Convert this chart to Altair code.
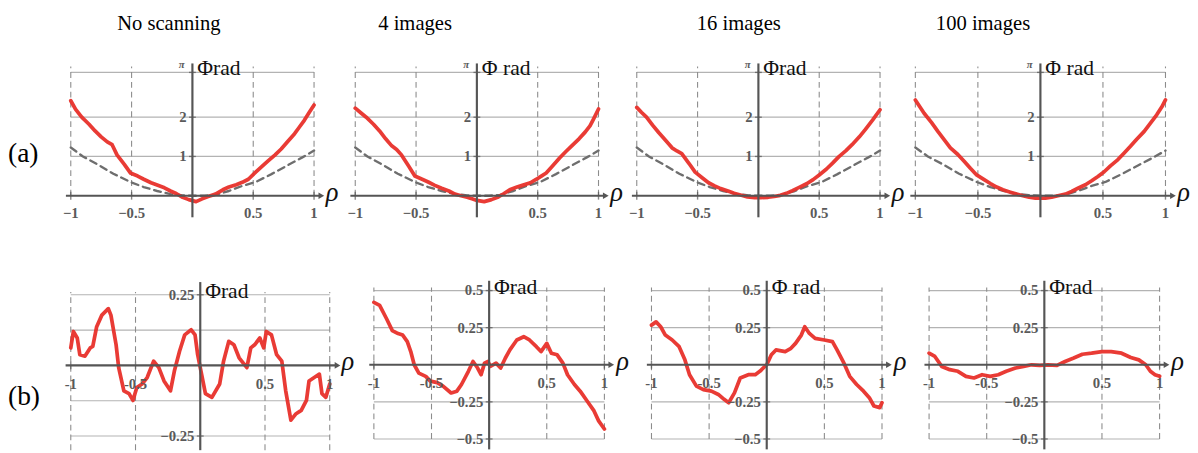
import altair as alt
import pandas as pd

# ---------------- data ----------------
titles = ["No scanning", "4 images", "16 images", "100 images"]
row_labels = ["(a)", "(b)"]

# dashed reference curve (row a, same in every panel)
ref_rho = [-1.0, -0.9, -0.78, -0.65, -0.51, -0.4, -0.29, -0.18, -0.08, 0.0, 0.1, 0.19, 0.3, 0.41, 0.52, 0.65, 0.78, 0.9, 1.0]
ref_phi = [1.23, 1.0, 0.80, 0.56, 0.35, 0.22, 0.12, 0.04, 0.01, 0.0, 0.0, 0.02, 0.12, 0.25, 0.35, 0.55, 0.77, 0.97, 1.15]

a1_rho = [-1.0, -0.96, -0.91, -0.85, -0.80, -0.75, -0.70, -0.66, -0.62, -0.56, -0.51, -0.45, -0.40, -0.34, -0.29, -0.23, -0.18, -0.13, -0.08, -0.03, 0.03, 0.08, 0.13, 0.19, 0.25, 0.30, 0.36, 0.41, 0.46, 0.52, 0.57, 0.62, 0.68, 0.73, 0.78, 0.84, 0.88, 0.92, 0.96, 1.0]
a1_phi = [2.42, 2.2, 2.0, 1.82, 1.65, 1.5, 1.37, 1.3, 1.04, 0.8, 0.58, 0.5, 0.42, 0.33, 0.27, 0.2, 0.12, 0.05, -0.04, -0.1, -0.15, -0.08, -0.02, 0.04, 0.15, 0.22, 0.28, 0.34, 0.42, 0.6, 0.74, 0.88, 1.04, 1.19, 1.37, 1.58, 1.75, 1.92, 2.12, 2.31]

a2_rho = [-1.0, -0.95, -0.91, -0.85, -0.80, -0.75, -0.70, -0.66, -0.62, -0.56, -0.51, -0.45, -0.40, -0.35, -0.29, -0.23, -0.18, -0.13, -0.08, -0.04, 0.0, 0.06, 0.12, 0.17, 0.22, 0.27, 0.33, 0.38, 0.44, 0.49, 0.53, 0.57, 0.62, 0.68, 0.73, 0.78, 0.84, 0.89, 0.93, 0.96, 1.0]
a2_phi = [2.23, 2.1, 2.0, 1.82, 1.65, 1.45, 1.27, 1.18, 1.04, 0.75, 0.5, 0.42, 0.35, 0.27, 0.19, 0.12, 0.04, 0.0, -0.04, -0.08, -0.12, -0.15, -0.1, -0.04, 0.05, 0.15, 0.22, 0.27, 0.33, 0.42, 0.5, 0.58, 0.75, 0.96, 1.12, 1.27, 1.45, 1.62, 1.78, 1.96, 2.21]

a3_rho = [-1.0, -0.96, -0.92, -0.87, -0.82, -0.76, -0.71, -0.67, -0.63, -0.57, -0.52, -0.46, -0.41, -0.36, -0.31, -0.25, -0.20, -0.14, -0.09, -0.03, 0.02, 0.08, 0.13, 0.18, 0.23, 0.28, 0.34, 0.40, 0.45, 0.50, 0.56, 0.61, 0.66, 0.72, 0.77, 0.83, 0.88, 0.94, 1.0]
a3_phi = [2.25, 2.12, 2.0, 1.8, 1.61, 1.4, 1.22, 1.14, 1.07, 0.82, 0.6, 0.45, 0.33, 0.25, 0.18, 0.12, 0.06, 0.01, -0.03, -0.05, -0.05, -0.04, -0.02, 0.01, 0.06, 0.13, 0.22, 0.31, 0.41, 0.53, 0.68, 0.83, 0.99, 1.15, 1.30, 1.5, 1.69, 1.93, 2.19]

a4_rho = [-1.0, -0.93, -0.87, -0.82, -0.77, -0.72, -0.66, -0.61, -0.56, -0.51, -0.45, -0.40, -0.35, -0.30, -0.24, -0.19, -0.14, -0.09, -0.04, 0.0, 0.04, 0.09, 0.14, 0.20, 0.25, 0.30, 0.36, 0.41, 0.46, 0.51, 0.56, 0.62, 0.67, 0.72, 0.77, 0.83, 0.88, 0.93, 0.97, 1.0]
a4_phi = [2.44, 2.1, 1.86, 1.64, 1.43, 1.22, 1.05, 0.88, 0.7, 0.53, 0.41, 0.31, 0.22, 0.15, 0.09, 0.04, 0.0, -0.04, -0.06, -0.06, -0.06, -0.04, 0.0, 0.04, 0.11, 0.19, 0.28, 0.38, 0.49, 0.61, 0.76, 0.92, 1.09, 1.26, 1.44, 1.64, 1.85, 2.06, 2.26, 2.44]

b1_rho = [-1.0, -0.98, -0.95, -0.93, -0.89, -0.85, -0.83, -0.80, -0.76, -0.71, -0.69, -0.65, -0.63, -0.59, -0.55, -0.52, -0.49, -0.45, -0.41, -0.36, -0.32, -0.28, -0.23, -0.20, -0.16, -0.12, -0.07, -0.04, -0.02, 0.01, 0.04, 0.09, 0.15, 0.18, 0.22, 0.26, 0.30, 0.32, 0.36, 0.39, 0.42, 0.46, 0.49, 0.51, 0.55, 0.59, 0.63, 0.66, 0.70, 0.74, 0.78, 0.82, 0.84, 0.88, 0.92, 0.94, 0.97, 1.0]
b1_phi = [0.062, 0.12, 0.097, 0.038, 0.033, 0.062, 0.067, 0.137, 0.178, 0.201, 0.178, 0.073, -0.008, -0.09, -0.10, -0.124, -0.078, -0.066, -0.043, 0.015, -0.008, -0.055, -0.09, -0.02, 0.05, 0.108, 0.126, 0.108, 0.038, -0.031, -0.10, -0.113, -0.066, 0.015, 0.085, 0.073, 0.027, 0.015, -0.008, 0.062, 0.073, 0.097, 0.062, 0.12, 0.108, 0.038, 0.015, -0.09, -0.194, -0.171, -0.159, -0.124, -0.055, -0.043, -0.031, -0.10, -0.113, -0.066]

b2_rho = [-1.0, -0.95, -0.89, -0.84, -0.79, -0.75, -0.71, -0.68, -0.65, -0.61, -0.55, -0.51, -0.45, -0.40, -0.33, -0.28, -0.24, -0.18, -0.14, -0.10, -0.07, -0.04, -0.01, 0.01, 0.06, 0.10, 0.14, 0.18, 0.24, 0.30, 0.35, 0.41, 0.45, 0.50, 0.54, 0.59, 0.64, 0.68, 0.74, 0.79, 0.85, 0.91, 0.95, 1.0]
b2_phi = [0.42, 0.40, 0.31, 0.23, 0.21, 0.20, 0.156, 0.089, 0.0, -0.056, -0.078, -0.11, -0.12, -0.144, -0.19, -0.178, -0.133, -0.044, 0.022, -0.022, -0.067, 0.011, 0.022, -0.011, 0.011, -0.022, 0.044, 0.10, 0.167, 0.189, 0.167, 0.122, 0.089, 0.144, 0.078, 0.067, 0.011, -0.067, -0.133, -0.178, -0.244, -0.311, -0.378, -0.433]

b3_rho = [-1.0, -0.96, -0.92, -0.88, -0.82, -0.76, -0.71, -0.67, -0.61, -0.55, -0.48, -0.42, -0.37, -0.33, -0.28, -0.23, -0.16, -0.10, -0.06, 0.0, 0.04, 0.08, 0.16, 0.21, 0.25, 0.30, 0.33, 0.37, 0.42, 0.50, 0.57, 0.61, 0.67, 0.72, 0.78, 0.84, 0.89, 0.93, 0.98, 1.0]
b3_phi = [0.267, 0.289, 0.256, 0.20, 0.167, 0.122, 0.033, -0.067, -0.144, -0.167, -0.178, -0.20, -0.233, -0.256, -0.189, -0.089, -0.067, -0.067, -0.044, 0.0, 0.067, 0.10, 0.089, 0.111, 0.144, 0.20, 0.256, 0.211, 0.178, 0.167, 0.156, 0.10, 0.011, -0.078, -0.133, -0.178, -0.222, -0.278, -0.289, -0.256]

b4_rho = [-1.0, -0.95, -0.89, -0.82, -0.75, -0.68, -0.61, -0.54, -0.47, -0.40, -0.33, -0.25, -0.18, -0.11, -0.04, 0.03, 0.11, 0.18, 0.25, 0.33, 0.41, 0.50, 0.58, 0.67, 0.75, 0.82, 0.88, 0.92, 0.96, 1.0]
b4_phi = [0.078, 0.056, -0.011, -0.033, -0.044, -0.078, -0.089, -0.067, -0.078, -0.067, -0.044, -0.022, -0.011, 0.0, -0.004, 0.0, -0.004, 0.022, 0.044, 0.071, 0.078, 0.089, 0.089, 0.078, 0.049, 0.033, 0.0, -0.044, -0.067, -0.078]

# tick values / labels
xticks = [-1, -0.5, 0.5, 1]
xlabels_a = ["\u22121", "\u22120.5", "0.5", "1"]
xlabels_b = ["-1", "-0.5", "0.5", "1"]
a_grid = [1, 2, 3.14159]
a_ylab_v = [1, 2]
a_ylab_t = ["1", "2"]
a_yticks = [1, 2, 3.14159]
b1_grid = [-0.25, -0.125, 0.125, 0.25]
b1_ylab_v = [0.25, -0.25]
b1_ylab_t = ["0.25", "\u22120.25"]
b1_yticks = [0.25, -0.25]
b_grid = [-0.5, -0.25, 0.25, 0.5]
b_ylab_v = [0.5, 0.25, -0.25, -0.5]
b_ylab_t = ["0.5", "0.25", "\u22120.25", "\u22120.5"]
b_yticks = [0.5, 0.25, -0.25, -0.5]
phi_texts_a = ["\u03a6rad", "\u03a6 rad", "\u03a6rad", "\u03a6 rad"]
phi_texts_b = ["\u03a6rad", "\u03a6rad", "\u03a6 rad", "\u03a6rad"]

# ---------------- style / layout ----------------
RED = "#e8302a"
GRID = "#b3b3b3"
DASH = "#8c8c8c"
AXIS = "#555555"
LBL = "#5a5a5a"
SERIF = "Liberation Serif"
M = 8  # page margin


def xdomain(L, R, pm1, pp1):
    s = (pp1 - pm1) / 2.0
    return [-1 - (pm1 - L) / s, 1 + (R - pp1) / s]


def ydomain(top, bottom, p_a, v_a, p_b, v_b):
    s = (p_b - p_a) / (v_a - v_b)
    zero = p_a + v_a * s
    return [-(bottom - zero) / s, (zero - top) / s]


def panel(L, R, pm1, pp1, top, bottom, ypa, va, ypb, vb, curves, hgrid,
          vg_lo, vg_hi, ax_lo, ax_hi, ylab_v, ylab_t, yticks, xlabels, xlab_dy,
          phi_y, phi_text, pi_label=False, title=None, title_px=None,
          row_label=None, row_label_py=None):
    # all pixel arguments are page coordinates
    xs = alt.Scale(domain=xdomain(L, R, pm1, pp1), nice=False, zero=False)
    ys = alt.Scale(domain=ydomain(top, bottom, ypa, va, ypb, vb), nice=False, zero=False)
    X = lambda f: alt.X(f, type="quantitative", scale=xs, axis=None)
    Y = lambda f: alt.Y(f, type="quantitative", scale=ys, axis=None)

    layers = []
    hg = pd.DataFrame({"v": hgrid, "x1": -1.0, "x2": 1.0})
    layers.append(alt.Chart(hg).mark_rule(color=GRID, strokeWidth=1.2).encode(
        x=X("x1"), x2="x2", y=Y("v")))
    vg = pd.DataFrame({"x": xticks, "y1": vg_lo, "y2": vg_hi})
    layers.append(alt.Chart(vg).mark_rule(color=DASH, strokeWidth=1.1, strokeDash=[6, 4]).encode(
        x=X("x"), y=Y("y1"), y2="y2"))
    for c in curves:
        df = pd.DataFrame({"rho": c["rho"], "phi": c["phi"], "i": range(len(c["rho"]))})
        kw = dict(color=c["color"], strokeWidth=c["width"], strokeCap="round", strokeJoin="round")
        if c.get("dash"):
            kw["strokeDash"] = c["dash"]
        if c.get("opacity"):
            kw["opacity"] = c["opacity"]
        layers.append(alt.Chart(df).mark_line(**kw).encode(
            x=X("rho"), y=Y("phi"), order="i:Q"))
    xa = pd.DataFrame({"x1": [-1.04], "x2": [1.05], "y": [0.0]})
    layers.append(alt.Chart(xa).mark_rule(color=AXIS, strokeWidth=2.2).encode(
        x=X("x1"), x2="x2", y=Y("y")))
    arr = pd.DataFrame({"x": [1.06], "y": [0.0]})
    layers.append(alt.Chart(arr).mark_point(shape="triangle-right", filled=True, size=45,
                                            color=AXIS, opacity=1).encode(x=X("x"), y=Y("y")))
    ya = pd.DataFrame({"x": [0.0], "y1": [ax_lo], "y2": [ax_hi]})
    layers.append(alt.Chart(ya).mark_rule(color=AXIS, strokeWidth=2.2).encode(
        x=X("x"), y=Y("y1"), y2="y2"))
    # small tick marks on both axes
    xt = pd.DataFrame({"x": xticks, "y": 0.0})
    layers.append(alt.Chart(xt).mark_tick(orient="vertical", size=8, thickness=1.4,
                                          color=AXIS).encode(x=X("x"), y=Y("y")))
    yt = pd.DataFrame({"y": yticks, "x": 0.0})
    layers.append(alt.Chart(yt).mark_tick(orient="horizontal", size=7, thickness=1.4,
                                          color=AXIS).encode(x=X("x"), y=Y("y")))
    xl = pd.DataFrame({"x": xticks, "t": xlabels, "y": 0.0})
    layers.append(alt.Chart(xl).mark_text(font=SERIF, fontSize=15, fontWeight="bold", color=LBL,
                                          dy=xlab_dy, baseline="middle").encode(
        x=X("x"), y=Y("y"), text="t:N"))
    yl = pd.DataFrame({"y": ylab_v, "t": ylab_t, "x": 0.0})
    layers.append(alt.Chart(yl).mark_text(font=SERIF, fontSize=15, fontWeight="bold", color=LBL,
                                          align="right", dx=-6, baseline="middle").encode(
        x=X("x"), y=Y("y"), text="t:N"))
    if pi_label:
        pl = pd.DataFrame({"y": [phi_y], "t": ["\u03c0"], "x": 0.0})
        layers.append(alt.Chart(pl).mark_text(font=SERIF, fontSize=11, fontStyle="italic",
                                              fontWeight="bold", color=LBL,
                                              align="right", dx=-8, dy=-8).encode(
            x=X("x"), y=Y("y"), text="t:N"))
    rl = pd.DataFrame({"x": [1.0], "y": [0.0], "t": ["\u03c1"]})
    layers.append(alt.Chart(rl).mark_text(font=SERIF, fontSize=27, fontStyle="italic", color="#111",
                                          align="left", dx=12, dy=-3, baseline="middle").encode(
        x=X("x"), y=Y("y"), text="t:N"))
    pt = pd.DataFrame({"x": [0.0], "y": [phi_y], "t": [phi_text]})
    layers.append(alt.Chart(pt).mark_text(font=SERIF, fontSize=22, color="#111",
                                          align="left", dx=5, dy=3, baseline="alphabetic").encode(
        x=X("x"), y=Y("y"), text="t:N"))
    if title:
        tt = pd.DataFrame({"t": [title]})
        layers.append(alt.Chart(tt).mark_text(font=SERIF, fontSize=21, color="#000",
                                              align="center", baseline="middle").encode(
            text="t:N", x=alt.value(title_px - L), y=alt.value(20 - top)))
    if row_label:
        rt = pd.DataFrame({"t": [row_label]})
        layers.append(alt.Chart(rt).mark_text(font=SERIF, fontSize=28, color="#000",
                                              align="left", baseline="middle").encode(
            text="t:N", x=alt.value(0), y=alt.value(row_label_py - top)))

    return alt.layer(*layers).properties(width=R - L, height=bottom - top)


A_TOP, A_BOT = M, 240
B_TOP, B_BOT = 240, 453

a_curves = [(a1_rho, a1_phi), (a2_rho, a2_phi), (a3_rho, a3_phi), (a4_rho, a4_phi)]
a_bounds = [(M, 348), (348, 633), (633, 913), (913, 1198)]
a_ticks = [(72, 320), (362, 610), (647, 895), (924, 1179)]
a_title_px = [172, 423, 751, 993]

row_a = []
for k in range(4):
    L, R = a_bounds[k]
    curves = [
        dict(rho=ref_rho, phi=ref_phi, color="#6e6e6e", width=2.4, dash=[7, 5]),
        dict(rho=a_curves[k][0], phi=a_curves[k][1], color=RED, width=3.8, opacity=0.95),
    ]
    row_a.append(panel(L, R, a_ticks[k][0], a_ticks[k][1], A_TOP, A_BOT, 69.3, 3.14159, 195, 0,
                       curves, a_grid, 0.0, 3.29, -0.55, 3.37, a_ylab_v, a_ylab_t, a_yticks,
                       xlabels_a, 18, 3.14159, phi_texts_a[k], pi_label=True,
                       title=titles[k], title_px=a_title_px[k],
                       row_label=row_labels[0] if k == 0 else None, row_label_py=153))

b_curves = [(b1_rho, b1_phi), (b2_rho, b2_phi), (b3_rho, b3_phi), (b4_rho, b4_phi)]
b_bounds = [(M, 364), (364, 638), (638, 918), (918, 1198)]
b_ticks = [(72, 336), (381, 616), (661, 896), (941, 1176)]

row_b = []
for k in range(4):
    L, R = b_bounds[k]
    curves = [dict(rho=b_curves[k][0], phi=b_curves[k][1], color=RED, width=3.8, opacity=0.95)]
    if k == 0:
        row_b.append(panel(L, R, b_ticks[k][0], b_ticks[k][1], B_TOP, B_BOT, 296, 0.25, 440, -0.25,
                           curves, b1_grid, -0.3, 0.26, -0.3, 0.295, b1_ylab_v, b1_ylab_t, b1_yticks,
                           xlabels_b, 19, 0.25, phi_texts_b[k],
                           row_label=row_labels[1], row_label_py=400))
    else:
        row_b.append(panel(L, R, b_ticks[k][0], b_ticks[k][1], B_TOP, B_BOT, 291.7, 0.5, 443, -0.5,
                           curves, b_grid, -0.5, 0.52, -0.57, 0.566, b_ylab_v, b_ylab_t, b_yticks,
                           xlabels_b, 19, 0.5, phi_texts_b[k]))

chart = alt.vconcat(
    alt.hconcat(*row_a, spacing=0),
    alt.hconcat(*row_b, spacing=0),
    spacing=0,
).properties(padding=0, background="white").configure_view(stroke=None)

chart.save("out.html", embed_options={"renderer": "svg", "actions": False})
